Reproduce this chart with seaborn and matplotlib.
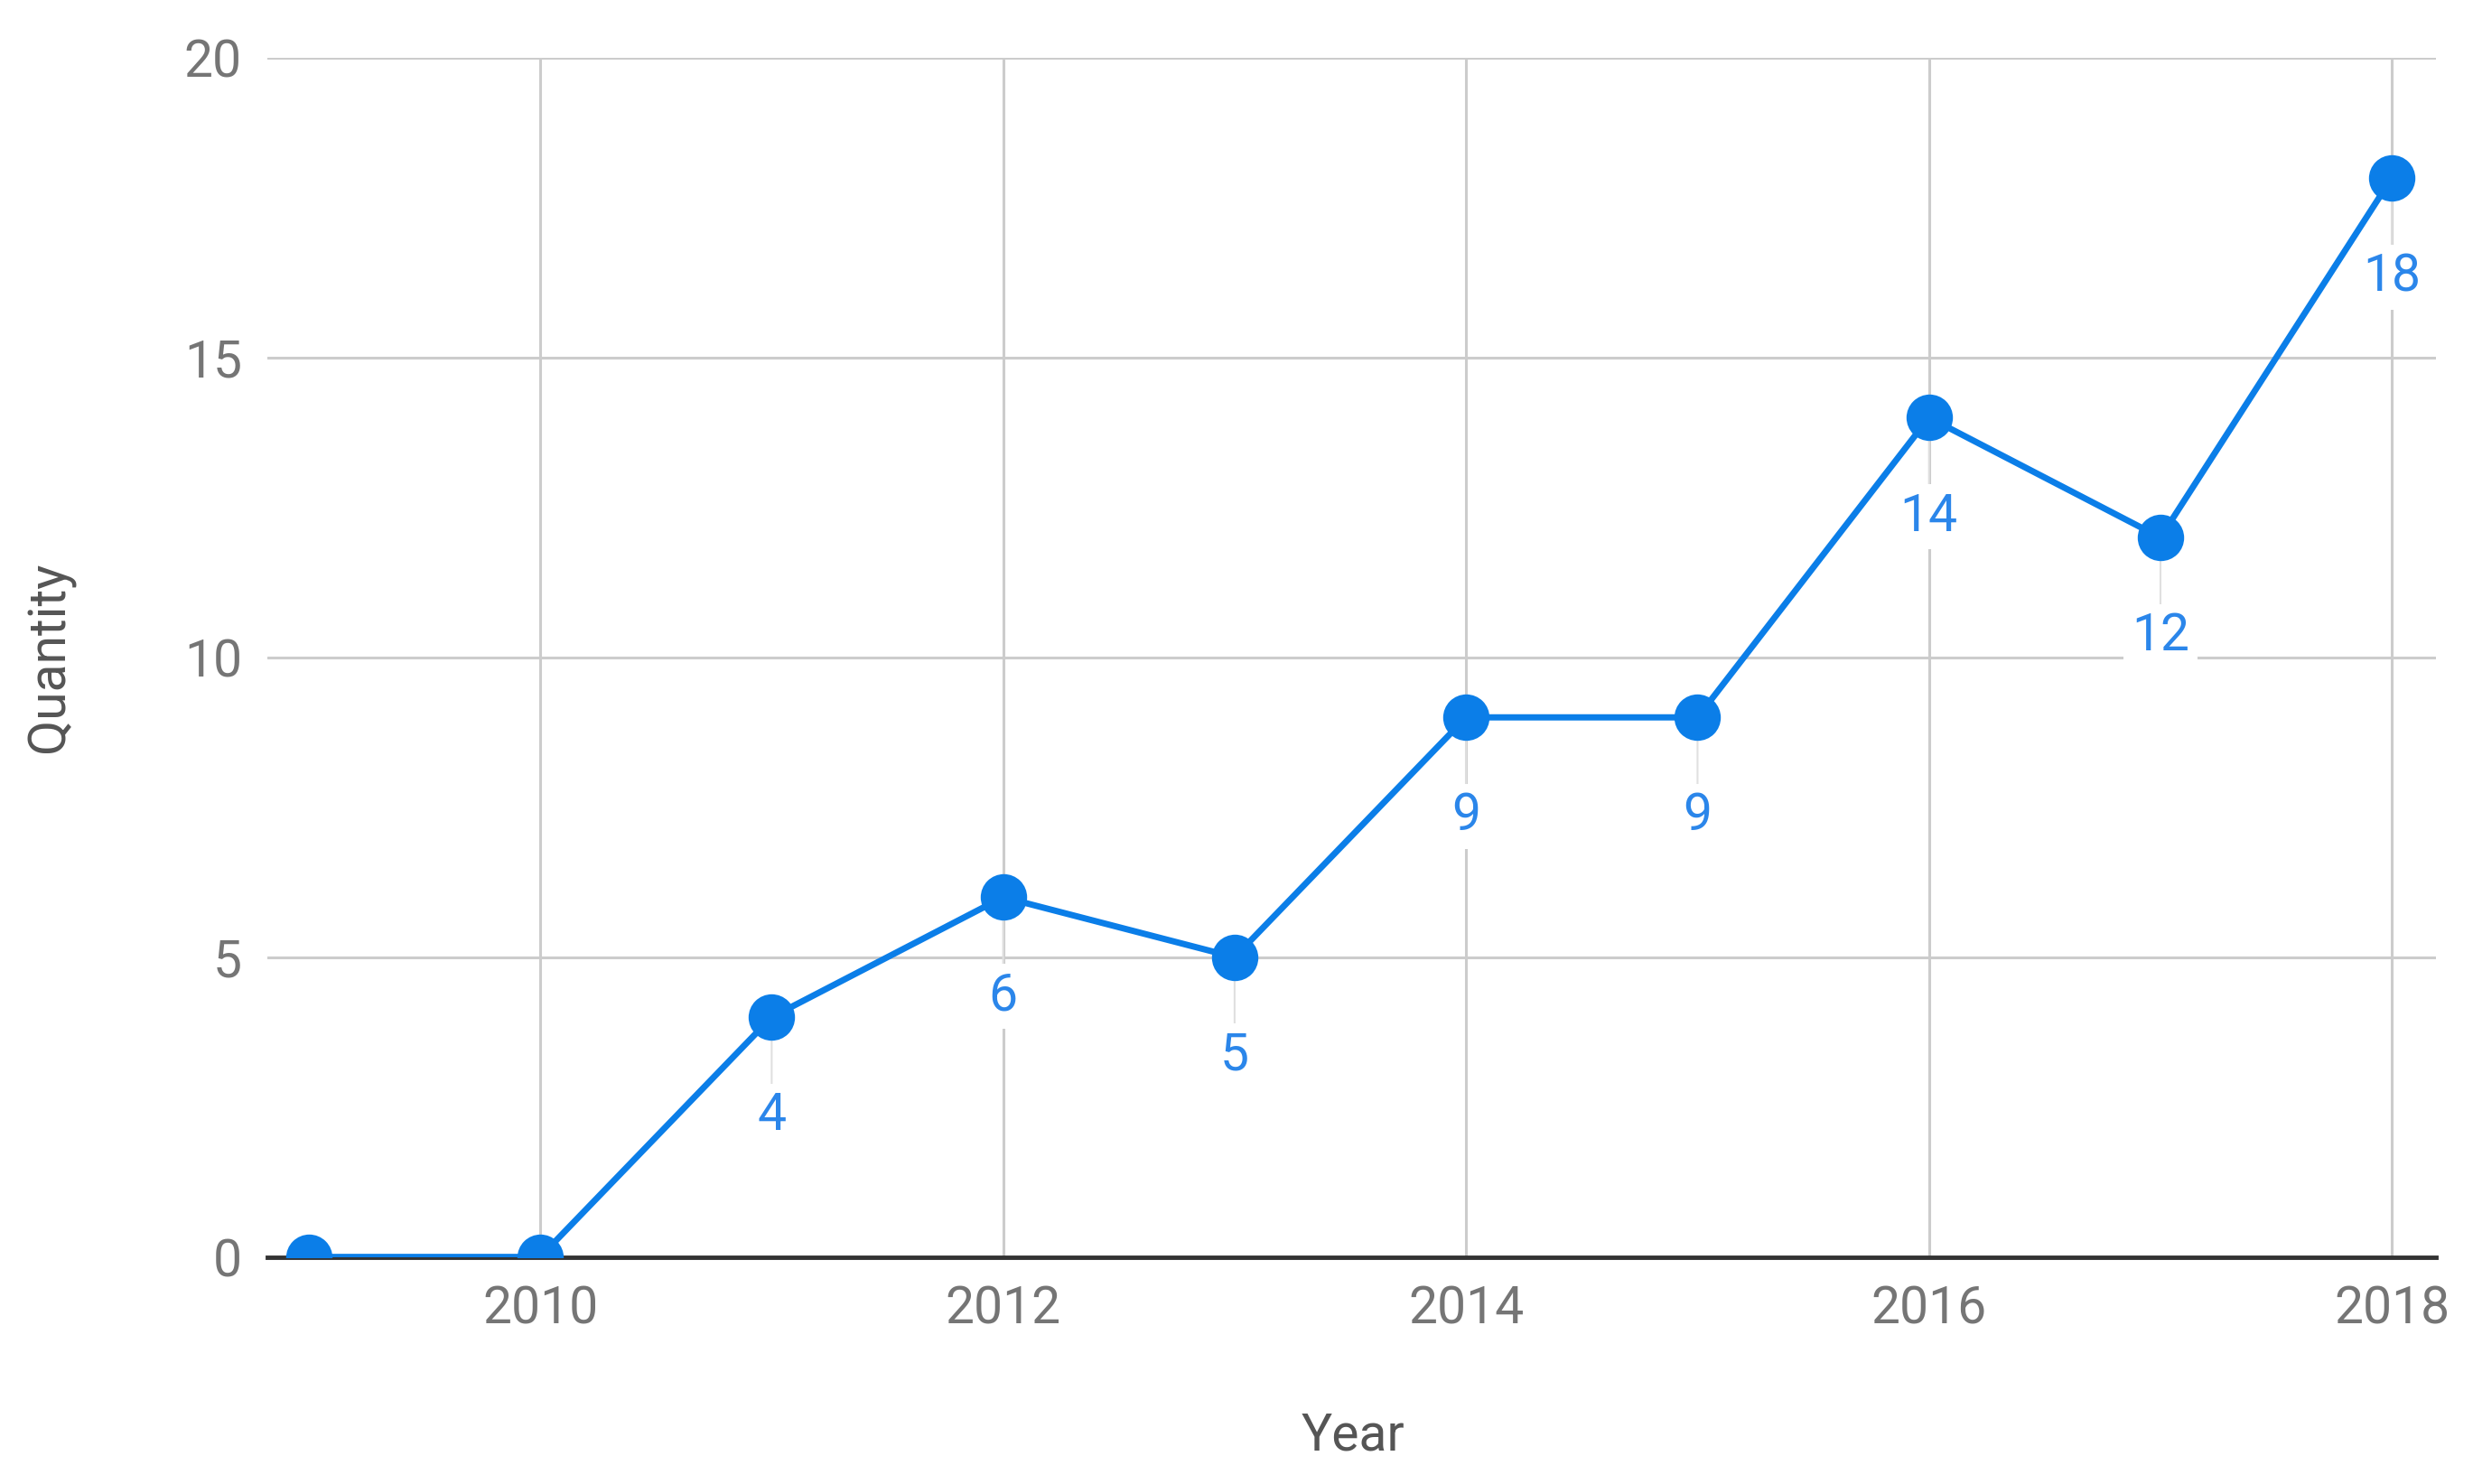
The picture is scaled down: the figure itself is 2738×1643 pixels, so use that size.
import pandas as pd
import seaborn as sns
import matplotlib.pyplot as plt

years = [2009, 2010, 2011, 2012, 2013, 2014, 2015, 2016, 2017, 2018]
quantity = [0, 0, 4, 6, 5, 9, 9, 14, 12, 18]
x_ticks = [2010, 2012, 2014, 2016, 2018]
y_ticks = [0, 5, 10, 15, 20]

blue = '#0b7ee8'
label_blue = '#2b86ea'
grid_gray = '#cccccc'

df = pd.DataFrame({'Year': years, 'Quantity': quantity})

sns.set_style('white')
plt.rcParams['font.family'] = ['Roboto', 'DejaVu Sans']

fig = plt.figure(figsize=(27.38, 16.43), dpi=100)
ax = fig.add_axes([0.108, 0.153, 0.877, 0.808])

sns.lineplot(data=df, x='Year', y='Quantity', ax=ax, color=blue,
             linewidth=5, marker='o', markersize=37,
             markeredgewidth=0, zorder=5)

ax.set_xlim(2008.82, 2018.19)
ax.set_ylim(0, 20)
ax.set_xticks(x_ticks)
ax.set_yticks(y_ticks)
ax.grid(True, color=grid_gray, linewidth=2.2)
ax.set_axisbelow(True)

for s in ['top', 'right', 'left']:
    ax.spines[s].set_visible(False)
ax.spines['bottom'].set_color('#333333')
ax.spines['bottom'].set_linewidth(3.5)
ax.spines['bottom'].set_zorder(4)

ax.tick_params(axis='both', length=0, labelsize=41, labelcolor='#757575')
ax.tick_params(axis='y', pad=20)
ax.tick_params(axis='x', pad=22)

ax.set_xlabel('Year', fontsize=41, color='#555555')
ax.set_ylabel('Quantity', fontsize=41, color='#555555')
ax.xaxis.set_label_coords(0.5005, -0.129)
ax.yaxis.set_label_coords(-0.0886, 0.5)

# value labels under each point, with a short light stem
for yr, q in zip(years, quantity):
    if q == 0:
        continue
    ax.annotate('', xy=(yr, q), xytext=(0, -80), textcoords='offset points',
                arrowprops=dict(arrowstyle='-', color='#e0e0e0', lw=1.5,
                                shrinkA=0, shrinkB=0), zorder=3)
    ax.annotate(str(q), xy=(yr, q), xytext=(0, -79), textcoords='offset points',
                ha='center', va='center', fontsize=41, color=label_blue,
                bbox=dict(boxstyle='square,pad=0.15', fc='white', ec='none'),
                zorder=4)

plt.savefig('out.png', dpi=100, facecolor='white')
